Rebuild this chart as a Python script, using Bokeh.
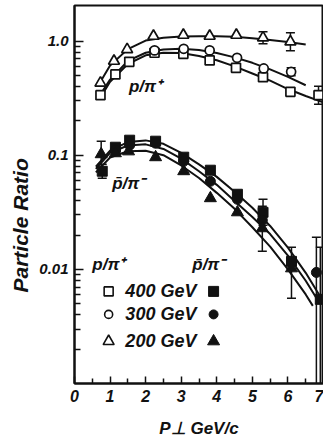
from bokeh.plotting import figure
from bokeh.models import FixedTicker, Label, Title
from bokeh.embed import file_html
from bokeh.resources import INLINE

# ---- p/pi+ measurements (open symbols) ----
x_pp_400 = [0.73, 1.15, 1.54, 2.25, 3.06, 3.80, 4.54, 5.30, 6.07, 6.86]
r_pp_400 = [0.336, 0.51, 0.658, 0.79, 0.774, 0.677, 0.583, 0.483, 0.359, 0.336]
x_pp_300 = [2.25, 3.07, 3.80, 4.57, 5.32, 6.09]
r_pp_300 = [0.829, 0.856, 0.829, 0.714, 0.576, 0.538]
x_pp_200 = [0.73, 1.11, 1.48, 2.22, 3.06, 3.80, 4.55, 5.30, 6.07]
r_pp_200 = [0.43, 0.668, 0.845, 1.106, 1.129, 1.106, 1.129, 1.069, 0.986]

# smooth fits for p/pi+
cx_pp_200 = [0.65, 1.0, 1.5, 2.0, 2.5, 3.0, 3.5, 4.0, 4.5, 5.0, 5.5, 6.0, 6.5]
cy_pp_200 = [0.40, 0.61, 0.85, 1.01, 1.07, 1.095, 1.10, 1.10, 1.09, 1.06, 1.02, 0.98, 0.935]
cx_pp_300 = [0.7, 1.0, 1.5, 2.0, 2.5, 3.0, 3.5, 4.0, 4.5, 5.0, 5.5, 6.0, 6.5]
cy_pp_300 = [0.33, 0.46, 0.67, 0.79, 0.845, 0.855, 0.835, 0.785, 0.72, 0.645, 0.565, 0.485, 0.41]
cx_pp_400 = [0.7, 1.0, 1.5, 2.0, 2.5, 3.0, 3.5, 4.0, 4.5, 5.0, 5.5, 6.0, 6.5, 7.0]
cy_pp_400 = [0.31, 0.44, 0.63, 0.75, 0.79, 0.785, 0.74, 0.68, 0.60, 0.52, 0.45, 0.38, 0.33, 0.29]

# ---- pbar/pi- measurements (filled symbols) ----
x_pm_400 = [0.78, 1.15, 1.55, 2.28, 3.07, 3.82, 4.58, 5.30, 6.10, 6.91]
r_pm_400 = [0.0724, 0.1175, 0.1354, 0.1327, 0.0961, 0.0739, 0.0455, 0.0316, 0.01175, 0.00546]
x_pm_300 = [1.15, 1.55, 2.28, 3.07, 3.82, 4.58, 5.28, 6.80]
r_pm_300 = [0.1106, 0.1225, 0.1274, 0.0885, 0.0591, 0.0411, 0.0269, 0.0094]
x_pm_200 = [0.75, 1.15, 1.52, 2.28, 3.07, 3.82, 4.58, 5.28, 6.10]
r_pm_200 = [0.102, 0.104, 0.108, 0.096, 0.0724, 0.042, 0.0316, 0.0229, 0.0102]

# smooth fits for pbar/pi-
cx_pm_400 = [0.6, 1.0, 1.5, 2.0, 2.5, 3.0, 3.5, 4.0, 4.5, 5.0, 5.5, 6.0, 6.5, 6.95]
cy_pm_400 = [0.0794, 0.1096, 0.1303, 0.1349, 0.1259, 0.1047, 0.0832, 0.0646, 0.0479,
             0.0347, 0.0240, 0.0155, 0.00933, 0.00550]
cx_pm_300 = [0.6, 1.0, 1.5, 2.0, 2.5, 3.0, 3.5, 4.0, 4.5, 5.0, 5.5, 6.0, 6.5, 6.8]
cy_pm_300 = [0.0759, 0.1047, 0.1216, 0.1245, 0.1135, 0.0933, 0.0724, 0.0550, 0.0398,
             0.0288, 0.0204, 0.0132, 0.00794, 0.00562]
cx_pm_200 = [0.6, 1.0, 1.5, 2.0, 2.5, 3.0, 3.5, 4.0, 4.5, 5.0, 5.5, 6.0, 6.5, 6.7]
cy_pm_200 = [0.0708, 0.0955, 0.1084, 0.1096, 0.100, 0.0813, 0.0631, 0.0468, 0.0339,
             0.0234, 0.0158, 0.0100, 0.00603, 0.00479]

# error bars
err_pp_x = [5.30, 6.07, 6.86, 6.09]
err_pp_lo = [0.947, 0.822, 0.28, 0.497]
err_pp_hi = [1.207, 1.183, 0.403, 0.583]
err_pm_x = [0.75, 0.78, 5.30, 5.28, 6.10, 6.80, 6.91]
err_pm_lo = [0.0786, 0.0628, 0.0243, 0.0144, 0.00557, 0.0005, 0.0005]
err_pm_hi = [0.1327, 0.0833, 0.0411, 0.0357, 0.0156, 0.0191, 0.0156]

x_ticks = [0, 1, 2, 3, 4, 5, 6, 7]
y_ticks = [0.01, 0.1, 1.0]
y_tick_labels = {0.01: "0.01", 0.1: "0.1", 1: "1.0"}

INK = "#111111"
FONT = "Liberation Sans"

p = figure(width=323, height=445, x_range=(0, 7.0), y_range=(0.001, 2.05),
           y_axis_type="log", output_backend="svg", toolbar_location=None,
           min_border_left=74, min_border_right=0, min_border_top=5,
           min_border_bottom=62)
p.grid.visible = False
p.outline_line_color = INK
p.outline_line_width = 2
p.background_fill_color = "white"
p.border_fill_color = "white"

# axes
minor_y = [k * d for d in (0.001, 0.01, 0.1) for k in range(2, 10)]
p.yaxis.ticker = FixedTicker(ticks=y_ticks, minor_ticks=minor_y)
p.yaxis.major_label_overrides = y_tick_labels
p.xaxis.ticker = FixedTicker(ticks=x_ticks,
                             minor_ticks=[t + 0.5 for t in x_ticks[:-1]])
for ax in (p.xaxis, p.yaxis):
    ax.axis_line_color = INK
    ax.axis_line_width = 2
    ax.major_tick_line_color = INK
    ax.minor_tick_line_color = INK
    ax.major_tick_line_width = 1.5
    ax.minor_tick_line_width = 1.5
    ax.major_tick_out = 0
    ax.minor_tick_out = 0
    ax.major_label_text_font = FONT
    ax.major_label_text_font_style = "bold italic"
    ax.major_label_text_color = INK
p.yaxis.major_tick_in = 9
p.yaxis.minor_tick_in = 6
p.xaxis.major_tick_in = 7
p.xaxis.minor_tick_in = 5
p.yaxis.major_label_text_font_size = "15px"
p.xaxis.major_label_text_font_size = "16px"
p.yaxis.major_label_standoff = 6
p.xaxis.major_label_standoff = 6

# x axis title
p.xaxis.axis_label = "P\u22a5 GeV/c"
p.xaxis.axis_label_text_font = FONT
p.xaxis.axis_label_text_font_style = "bold italic"
p.xaxis.axis_label_text_font_size = "17px"
p.xaxis.axis_label_text_color = INK
p.xaxis.axis_label_standoff = 14

# y axis title, starting part way up the frame
p.add_layout(Title(text="Particle  Ratio", align="left", offset=91,
                   text_font=FONT, text_font_style="bold italic",
                   text_font_size="21px", text_color=INK), "left")

# fitted curves
for cx, cy in ((cx_pp_200, cy_pp_200), (cx_pp_300, cy_pp_300), (cx_pp_400, cy_pp_400),
               (cx_pm_200, cy_pm_200), (cx_pm_300, cy_pm_300), (cx_pm_400, cy_pm_400)):
    p.line(cx, cy, line_color=INK, line_width=2)

# error bars with caps
for ex, lo, hi in ((err_pp_x, err_pp_lo, err_pp_hi), (err_pm_x, err_pm_lo, err_pm_hi)):
    p.segment(x0=ex, y0=lo, x1=ex, y1=hi, line_color=INK, line_width=1.5)
    p.scatter(ex, lo, marker="dash", size=9, line_color=INK, line_width=1.5)
    p.scatter(ex, hi, marker="dash", size=9, line_color=INK, line_width=1.5)

# open symbols: p/pi+
p.scatter(x_pp_400, r_pp_400, marker="square", size=9, fill_color="white",
          line_color=INK, line_width=1.7)
p.scatter(x_pp_300, r_pp_300, marker="circle", size=9, fill_color="white",
          line_color=INK, line_width=1.7)
p.scatter(x_pp_200, r_pp_200, marker="triangle", size=11, fill_color="white",
          line_color=INK, line_width=1.7)

# filled symbols: pbar/pi-
p.scatter(x_pm_400, r_pm_400, marker="square", size=10, fill_color=INK, line_color=INK)
p.scatter(x_pm_300, r_pm_300, marker="circle", size=10, fill_color=INK, line_color=INK)
p.scatter(x_pm_200, r_pm_200, marker="triangle", size=12, fill_color=INK, line_color=INK)


def add_text(x, y, text, size="17px", align="left", baseline="alphabetic"):
    p.add_layout(Label(x=x, y=y, text=text, text_font=FONT,
                       text_font_style="bold italic", text_font_size=size,
                       text_color=INK, text_align=align, text_baseline=baseline))


# curve annotations
add_text(1.53, 0.40, "p/\u03c0\u207a")
add_text(1.06, 0.057, "p\u0304/\u03c0\u207b")

# key
add_text(0.5, 0.0111, "p/\u03c0\u207a")
add_text(3.31, 0.0111, "p\u0304/\u03c0\u207b")
key_y = [0.00641, 0.00403, 0.00234]
key_txt = ["400 GeV", "300 GeV", "200 GeV"]
key_markers = ["square", "circle", "triangle"]
key_sizes = [9, 8, 11]
for ky, kt, km, ks in zip(key_y, key_txt, key_markers, key_sizes):
    add_text(1.43, ky, kt, size="18px", baseline="middle")
    p.scatter([0.96], [ky], marker=km, size=ks, fill_color="white",
              line_color=INK, line_width=1.6)
    p.scatter([3.91], [ky], marker=km, size=ks + 1, fill_color=INK, line_color=INK)

open("out.html", "w").write(file_html(p, INLINE))
